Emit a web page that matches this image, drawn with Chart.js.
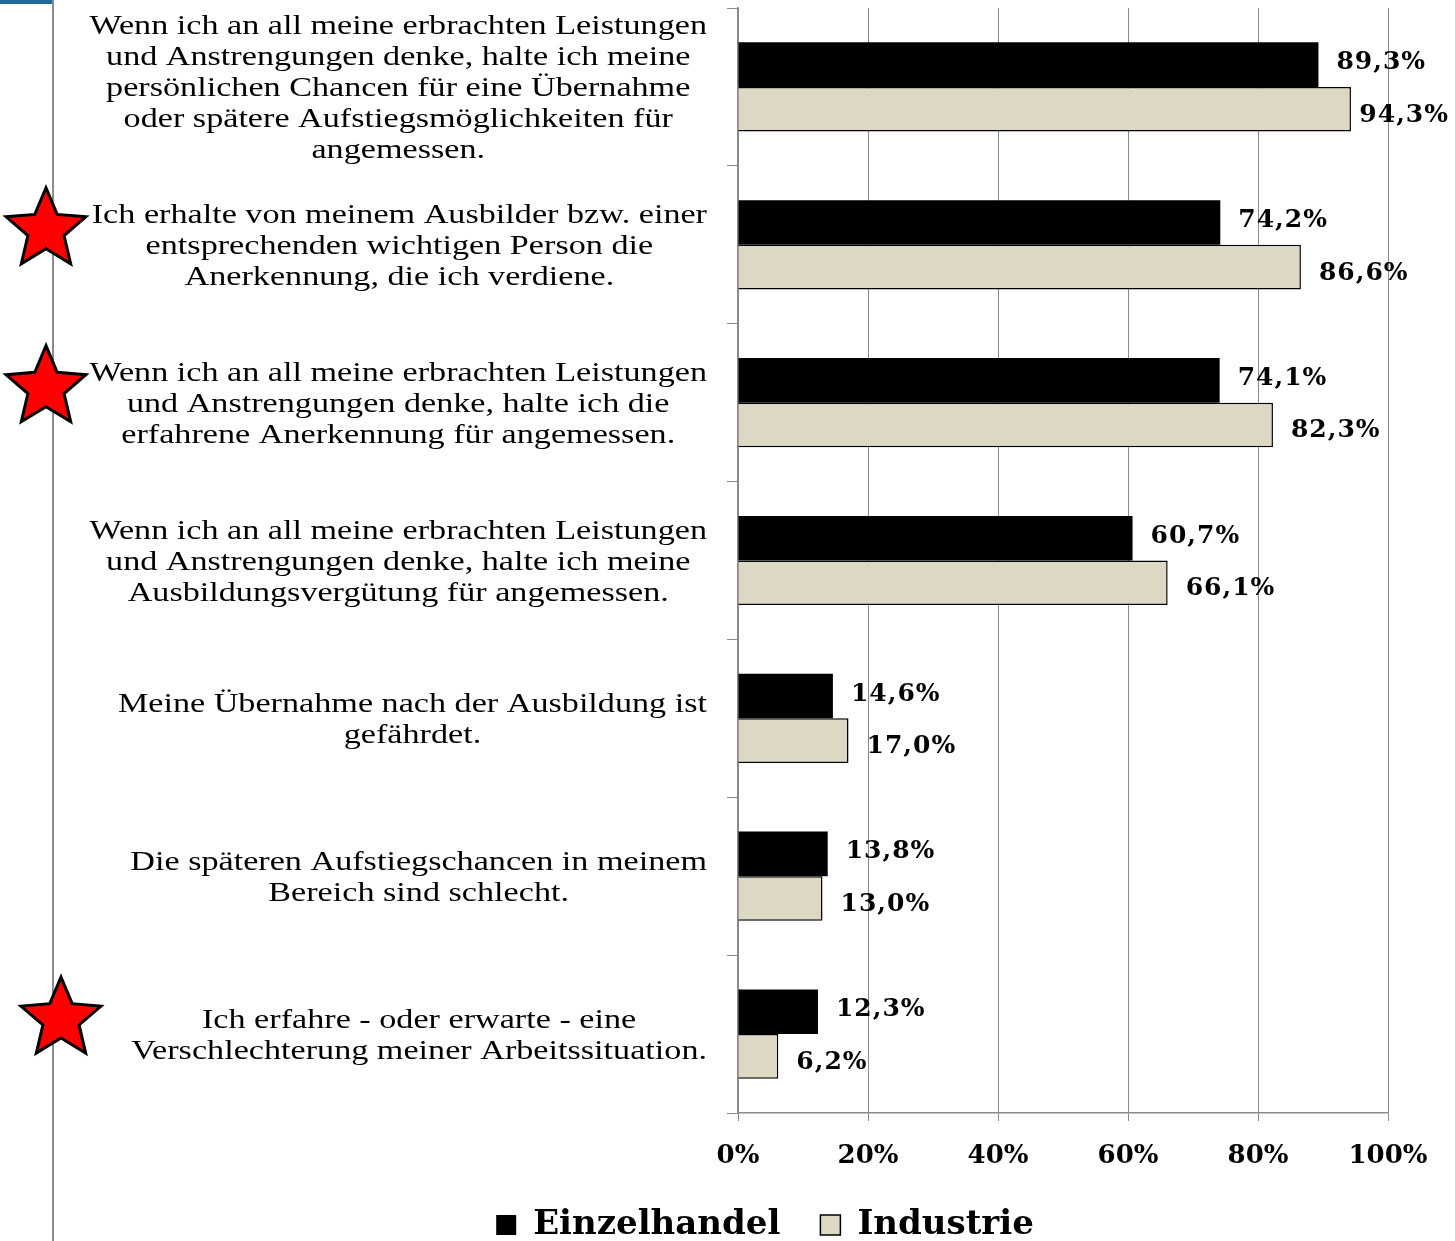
<!DOCTYPE html>
<html>
<head>
<meta charset="utf-8">
<script src="https://cdn.jsdelivr.net/npm/chart.js@4.4.0/dist/chart.umd.min.js"></script>
<style>
    html, body { margin: 0; padding: 0; background: #fff; }
    #wrap { position: relative; width: 1455px; height: 1241px; overflow: hidden; }
    #side-line { position: absolute; left: 52px; top: 0; width: 2px; height: 1241px; background: #8c8c8c; }
    #side-tab { position: absolute; left: 0; top: 0; width: 52px; height: 4px; background: #1f6c9c; }
    #chart { position: absolute; left: 0; top: 0; }
</style>
</head>
<body>
<div id="wrap">
    <div id="side-line"></div>
    <div id="side-tab"></div>
    <canvas id="chart" width="1455" height="1241"></canvas>
</div>
<script>
// Chart data
const categories = [
    ['Wenn ich an all meine erbrachten Leistungen', 'und Anstrengungen denke, halte ich meine', 'persönlichen Chancen für eine Übernahme', 'oder spätere Aufstiegsmöglichkeiten für', 'angemessen.'],
    ['Ich erhalte von meinem Ausbilder bzw. einer', 'entsprechenden wichtigen Person die', 'Anerkennung, die ich verdiene.'],
    ['Wenn ich an all meine erbrachten Leistungen', 'und Anstrengungen denke, halte ich die', 'erfahrene Anerkennung für angemessen.'],
    ['Wenn ich an all meine erbrachten Leistungen', 'und Anstrengungen denke, halte ich meine', 'Ausbildungsvergütung für angemessen.'],
    ['Meine Übernahme nach der Ausbildung ist', 'gefährdet.'],
    ['Die späteren Aufstiegschancen in meinem', 'Bereich sind schlecht.'],
    ['Ich erfahre - oder erwarte - eine', 'Verschlechterung meiner Arbeitssituation.']
];
const einzelhandel = [89.3, 74.2, 74.1, 60.7, 14.6, 13.8, 12.3];
const industrie = [94.3, 86.6, 82.3, 66.1, 17.0, 13.0, 6.2];
const xTicks = [0, 20, 40, 60, 80, 100];
const starredCategories = [1, 2, 6];

const SERIF = '"DejaVu Serif", "Liberation Serif", serif';
const LABEL_FONT = '28px "Liberation Serif", serif';
const LABEL_STRETCH = 1.22;

// Multi-line category labels, right-aligned block with centred lines
const categoryLabelPlugin = {
    id: 'categoryLabels',
    afterDraw(chart) {
        const ctx = chart.ctx;
        const yScale = chart.scales.y;
        const right = chart.chartArea.left - 31;
        ctx.save();
        ctx.font = LABEL_FONT;
        ctx.fillStyle = '#000';
        ctx.textAlign = 'center';
        ctx.textBaseline = 'middle';
        categories.forEach((lines, i) => {
            const maxW = Math.max(...lines.map(l => ctx.measureText(l).width)) * LABEL_STRETCH;
            const cx = right - maxW / 2;
            const cy = yScale.getPixelForValue(i) + 2;
            const lineH = 31;
            lines.forEach((line, j) => {
                ctx.save();
                ctx.translate(cx, cy + (j - (lines.length - 1) / 2) * lineH);
                ctx.scale(LABEL_STRETCH, 1);
                ctx.fillText(line, 0, 0);
                ctx.restore();
            });
        });
        ctx.restore();
    }
};

// Red stars in front of selected statements
const starPlugin = {
    id: 'stars',
    afterDraw(chart) {
        const ctx = chart.ctx;
        const yScale = chart.scales.y;
        ctx.save();
        starredCategories.forEach(i => {
            const cx = i === 6 ? 61 : 46;
            const cy = yScale.getPixelForValue(i) - 15;
            const R = 42, r = 19;
            ctx.beginPath();
            for (let k = 0; k < 10; k++) {
                const ang = -Math.PI / 2 + k * Math.PI / 5;
                const rad = k % 2 === 0 ? R : r;
                const px = cx + rad * Math.cos(ang);
                const py = cy + rad * Math.sin(ang);
                if (k === 0) ctx.moveTo(px, py); else ctx.lineTo(px, py);
            }
            ctx.closePath();
            ctx.fillStyle = '#ff0000';
            ctx.fill();
            ctx.lineWidth = 3;
            ctx.strokeStyle = '#000';
            ctx.lineJoin = 'miter';
            ctx.stroke();
        });
        ctx.restore();
    }
};

// Value labels next to bars (kept inside the canvas on the right)
const valueLabelPlugin = {
    id: 'valueLabels',
    afterDatasetsDraw(chart) {
        const ctx = chart.ctx;
        ctx.save();
        ctx.font = 'bold 25px ' + SERIF;
        ctx.letterSpacing = '1px';
        ctx.fillStyle = '#000';
        ctx.textAlign = 'left';
        ctx.textBaseline = 'middle';
        chart.data.datasets.forEach((ds, di) => {
            const meta = chart.getDatasetMeta(di);
            meta.data.forEach((bar, i) => {
                const txt = ds.data[i].toFixed(1).replace('.', ',') + '%';
                const w = ctx.measureText(txt).width;
                const x = Math.min(bar.x + 18, chart.width - 6 - w);
                ctx.fillText(txt, x, bar.y + (di === 0 ? -2 : 6));
            });
        });
        ctx.restore();
    }
};

const ctx = document.getElementById('chart').getContext('2d');
const chart = new Chart(ctx, {
    type: 'bar',
    data: {
        labels: categories.map((c, i) => i),
        datasets: [
            {
                label: 'Einzelhandel',
                data: einzelhandel,
                backgroundColor: '#000000',
                borderWidth: 0,
                categoryPercentage: 0.565,
                barPercentage: 1.0
            },
            {
                label: 'Industrie',
                data: industrie,
                backgroundColor: '#ddd8c4',
                borderColor: '#000000',
                borderWidth: 1.5,
                borderSkipped: 'start',
                categoryPercentage: 0.565,
                barPercentage: 1.0
            }
        ]
    },
    options: {
        indexAxis: 'y',
        responsive: false,
        animation: false,
        layout: {
            padding: { left: 142, right: 67, top: 8, bottom: -11 }
        },
        plugins: {
            tooltip: { enabled: false },
            legend: {
                position: 'bottom',
                labels: {
                    color: '#000',
                    boxWidth: 20,
                    boxHeight: 20,
                    padding: 40,
                    font: { family: SERIF, size: 34, weight: 'bold' }
                }
            }
        },
        scales: {
            x: {
                min: 0,
                max: 100,
                afterBuildTicks(scale) {
                    scale.ticks = xTicks.map(v => ({ value: v }));
                },
                afterFit(scale) {
                    scale.height = 55;
                },
                grid: { color: '#8a8a8a', lineWidth: 1, tickLength: 8 },
                border: { color: '#8a8a8a', width: 1.5 },
                ticks: {
                    color: '#000',
                    padding: 20,
                    font: { family: SERIF, size: 26, weight: 'bold' },
                    callback: v => v + '%'
                }
            },
            y: {
                type: 'category',
                afterFit(scale) {
                    scale.width = 738 - 142;
                },
                grid: { offset: true, drawOnChartArea: false, color: '#8a8a8a', tickLength: 11 },
                border: { color: '#8a8a8a', width: 1.5 },
                ticks: { display: false }
            }
        }
    },
    plugins: [categoryLabelPlugin, starPlugin, valueLabelPlugin]
});
</script>
</body>
</html>
